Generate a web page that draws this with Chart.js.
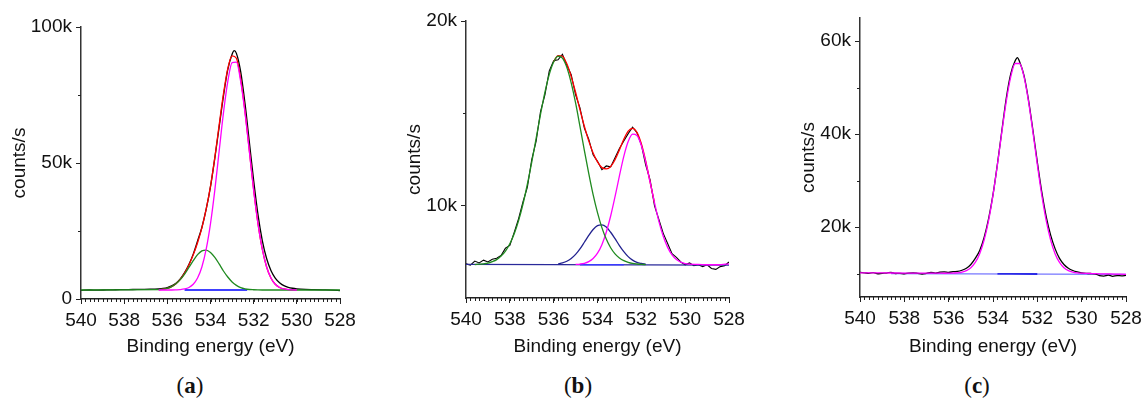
<!DOCTYPE html>
<html>
<head>
<meta charset="utf-8">
<script src="https://cdn.jsdelivr.net/npm/chart.js@4.4.1/dist/chart.umd.min.js"></script>
<style>
  html, body { margin: 0; padding: 0; background: #fff; }
  #wrap { position: relative; width: 1147px; height: 399px; overflow: hidden; }
  #wrap canvas { position: absolute; top: 0; }
  .cap { position: absolute; top: 373px; line-height: 26px; font-family: "Liberation Serif", "DejaVu Serif", serif; font-size: 23px; color: #111; transform: translateX(-50%); }
</style>
</head>
<body>
<div id="wrap">
  <canvas id="chartA" width="380" height="362" style="left:0px"></canvas>
  <canvas id="chartB" width="380" height="362" style="left:380px"></canvas>
  <canvas id="chartC" width="387" height="362" style="left:760px"></canvas>
  <div class="cap" style="left:190px">(<b>a</b>)</div>
  <div class="cap" style="left:578px">(<b>b</b>)</div>
  <div class="cap" style="left:977px">(<b>c</b>)</div>
</div>
<script>
// shared axis
const energyTicks = [540, 538, 536, 534, 532, 530, 528];

// ---- panel (a) ----
const aEnergy = [540, 539.6, 539.2, 538.8, 538.4, 538, 537.6, 537.2, 536.8, 536.4, 536.2, 536, 535.8, 535.6, 535.4, 535.2, 535, 534.8, 534.6, 534.4, 534.2, 534, 533.8, 533.6, 533.4, 533.2, 533, 532.9, 532.8, 532.6, 532.4, 532.2, 532, 531.8, 531.6, 531.4, 531.2, 531, 530.8, 530.6, 530.4, 530.2, 530, 529.6, 529.2, 528.8, 528.4, 528];
const aCounts = [3200, 3300, 3250, 3350, 3400, 3450, 3500, 3550, 3600, 3750, 3900, 4200, 4800, 5800, 7400, 9700, 12700, 16500, 21300, 26300, 33000, 41300, 51800, 63200, 74600, 84300, 90000, 91300, 90300, 83500, 71800, 57700, 43500, 31000, 21500, 14900, 10500, 7700, 6000, 4900, 4300, 3950, 3750, 3550, 3450, 3350, 3250, 3100];
const aFitEnergy = [540, 536.4, 536.2, 536, 535.8, 535.6, 535.4, 535.2, 535, 534.8, 534.6, 534.4, 534.2, 534, 533.8, 533.6, 533.4, 533.2, 533, 532.8, 532.6, 532.4, 532.2, 532, 531.8, 531.6, 531.4, 531.2, 531, 530.8, 530.6, 530.4, 530.2, 530, 528];
const aPeakMain = [null, 3300, 3300, 3300, 3300, 3350, 3440, 3680, 4230, 5420, 7700, 11760, 18300, 27700, 40000, 54300, 68400, 79900, 86900, 87100, 79900, 68400, 54300, 40000, 27700, 18300, 11760, 7700, 5420, 4230, 3680, 3440, 3350, 3300, null];
const aPeakHigh = [3300, 3430, 3600, 3950, 4570, 5600, 7100, 9150, 11600, 14100, 16300, 17700, 18000, 17100, 15300, 12900, 10300, 8080, 6280, 5020, 4210, 3750, 3500, 3400, 3330, 3300, 3300, 3300, 3300, 3300, 3300, 3300, 3300, 3300, 3300];
const aEnvelope = [null, 3430, 3600, 3950, 4570, 5650, 7240, 9530, 12530, 16220, 20700, 26160, 33000, 41500, 52000, 63900, 75400, 84700, 89400, 88500, 80800, 68850, 54500, 40100, 27730, 18300, 11760, 7700, 5420, 4230, 3680, 3440, 3350, 3300, null];
const aBgEnergy = [535.2, 532.3];
const aBackground = [3300, 3300];

// ---- panel (b) ----
const bEnergy = [540, 539.8, 539.6, 539.4, 539.2, 539, 538.8, 538.6, 538.4, 538.2, 538, 537.8, 537.6, 537.4, 537.2, 537, 536.8, 536.6, 536.4, 536.2, 536, 535.8, 535.6, 535.4, 535.2, 535, 534.8, 534.6, 534.4, 534.2, 534, 533.8, 533.6, 533.4, 533.2, 533, 532.8, 532.6, 532.4, 532.2, 532, 531.8, 531.6, 531.4, 531.2, 531, 530.8, 530.6, 530.4, 530.2, 530, 529.8, 529.6, 529.4, 529.2, 529, 528.8, 528.6, 528.4, 528.2, 528];
const bCounts = [6850, 6780, 7000, 6900, 7050, 6950, 7100, 7150, 7300, 7700, 7850, 8550, 9300, 10200, 11000, 12500, 13500, 15100, 16000, 17300, 17850, 17900, 18200, 17600, 17100, 16000, 15300, 14200, 13600, 12750, 12400, 11950, 12150, 12100, 12600, 13100, 13500, 13900, 14250, 13950, 13300, 12200, 11400, 10000, 9250, 8500, 7950, 7400, 7200, 6950, 6800, 6900, 6750, 6800, 6700, 6800, 6600, 6550, 6700, 6750, 6950];
const bFitEnergy = [539.6, 539.4, 539.2, 539, 538.8, 538.6, 538.4, 538.2, 538, 537.8, 537.6, 537.4, 537.2, 537, 536.8, 536.6, 536.4, 536.2, 536, 535.8, 535.6, 535.4, 535.2, 535, 534.8, 534.6, 534.4, 534.2, 534, 533.8, 533.6, 533.4, 533.2, 533, 532.8, 532.6, 532.4, 532.2, 532, 531.8, 531.6, 531.4, 531.2, 531, 530.8, 530.6, 530.4, 530.2, 530, 529.8, 529.4, 529, 528.5, 528];
const bPeakHigh = [6810, 6830, 6850, 6890, 6970, 7080, 7270, 7540, 7940, 8480, 9190, 10090, 11160, 12360, 13650, 14940, 16130, 17110, 17780, 18090, 17990, 17490, 16650, 15560, 14300, 13000, 11750, 10600, 9620, 8810, 8190, 7720, 7390, 7170, 7020, 6930, 6870, 6840, 6820, 6810, null, null, null, null, null, null, null, null, null, null, null, null, null, null];
const bPeakMid = [null, null, null, null, null, null, null, null, null, null, null, null, null, null, null, null, null, null, null, 6840, 6900, 6990, 7140, 7360, 7660, 8020, 8390, 8710, 8920, 8960, 8840, 8560, 8210, 7840, 7510, 7240, 7050, 6930, 6870, 6830, null, null, null, null, null, null, null, null, null, null, null, null, null, null];
const bPeakLow = [null, null, null, null, null, null, null, null, null, null, null, null, null, null, null, null, null, null, null, null, null, null, null, 6820, 6840, 6880, 6970, 7140, 7430, 7890, 8560, 9440, 10490, 11610, 12670, 13470, 13870, 13800, 13260, 12370, 11270, 10160, 9150, 8340, 7740, 7330, 7080, 6940, 6860, 6830, 6820, 6800, 6800, 6850];
const bEnvelope = [null, null, null, null, null, null, null, null, null, null, null, null, null, null, null, null, null, null, 17800, 18130, 18090, 17680, 16990, 16140, 15200, 14300, 13510, 12850, 12370, 12060, 11990, 12120, 12490, 13020, 13600, 14040, 14190, 13970, 13350, 12410, 11280, 10160, null, null, null, null, null, null, null, null, null, null, null, null];
const bBgEnergy = [540, 528];
const bBackground = [6820, 6780];
const bBgMidEnergy = [534.8, 532.8];
const bBackgroundMid = [6800, 6800];

// ---- panel (c) ----
const cEnergy = [540, 539.8, 539.6, 539.4, 539.2, 539, 538.8, 538.6, 538.4, 538.2, 538, 537.8, 537.6, 537.4, 537.2, 537, 536.8, 536.6, 536.4, 536.2, 536, 535.8, 535.6, 535.4, 535.2, 535, 534.8, 534.6, 534.4, 534.2, 534, 533.8, 533.6, 533.4, 533.2, 533, 532.9, 532.8, 532.6, 532.4, 532.2, 532, 531.8, 531.6, 531.4, 531.2, 531, 530.8, 530.6, 530.4, 530.2, 530, 529.8, 529.6, 529.4, 529.2, 529, 528.8, 528.6, 528.4, 528.2, 528];
const cCounts = [10300, 10200, 10100, 10250, 10000, 10100, 10150, 10300, 10050, 10100, 10000, 10150, 10200, 10100, 9950, 10100, 10300, 10150, 10350, 10400, 10300, 10450, 10500, 10750, 11200, 12000, 13300, 15000, 17800, 21800, 27000, 33600, 40800, 47800, 53000, 55800, 56500, 55600, 52600, 47400, 40900, 34000, 27600, 22300, 18300, 15400, 13300, 12000, 11200, 10700, 10400, 10200, 10100, 10050, 10000, 9600, 9500, 9700, 9450, 9600, 9550, 9650];
const cFitEnergy = [540, 539, 538, 537, 536.4, 536.2, 536, 535.8, 535.6, 535.4, 535.2, 535, 534.8, 534.6, 534.4, 534.2, 534, 533.8, 533.6, 533.4, 533.2, 533, 532.8, 532.6, 532.4, 532.2, 532, 531.8, 531.6, 531.4, 531.2, 531, 530.8, 530.6, 530.4, 530.2, 530, 529.8, 529.6, 529.4, 529, 528.5, 528];
const cPeakMain = [10200, 10180, 10150, 10130, 10120, 10110, 10120, 10150, 10200, 10360, 10680, 11300, 12430, 14320, 17250, 21440, 26930, 33470, 40510, 47140, 52350, 55220, 55220, 52350, 47140, 40510, 33470, 26930, 21440, 17250, 14320, 12430, 11300, 10680, 10360, 10190, 10120, 10080, 10050, 10020, 9980, 9930, 9880];
const cBgEnergy = [538.6, 528];
const cBackground = [10050, 9850];
const cBgMidEnergy = [533.8, 532];
const cBackgroundMid = [9980, 9950];

Chart.defaults.font.family = '"Liberation Sans", Arial, sans-serif';
Chart.defaults.font.size = 19;
Chart.defaults.color = '#111';

const minorX = [];
for (let k = 0; k <= 60; k++) minorX.push(528 + k * 0.2);

const minorTicks = {
  id: 'minorTicks',
  afterDraw(chart, args, opts) {
    const { ctx, scales: { x, y } } = chart;
    ctx.save();
    ctx.strokeStyle = '#222';
    ctx.lineWidth = 1;
    ctx.beginPath();
    for (const v of opts.x || []) {
      const px = Math.round(x.getPixelForValue(v)) + 0.5;
      ctx.moveTo(px, x.top);
      ctx.lineTo(px, x.top + 3);
    }
    for (const v of opts.y || []) {
      const py = Math.round(y.getPixelForValue(v)) + 0.5;
      ctx.moveTo(y.right - 3, py);
      ctx.lineTo(y.right, py);
    }
    ctx.stroke();
    ctx.restore();
  },
};

function pts(energy, counts) {
  const out = [];
  energy.forEach((e, i) => { if (counts[i] !== null) out.push({ x: e, y: counts[i] }); });
  return out;
}

function line(energy, counts, color, order, extra) {
  return Object.assign({
    data: pts(energy, counts),
    borderColor: color,
    borderWidth: 1.3,
    pointRadius: 0,
    fill: false,
    cubicInterpolationMode: 'monotone',
    order,
  }, extra || {});
}

const kLabel = (v) => (v === 0 ? '0' : v / 1000 + 'k');

function makePanel(id, cfg) {
  return new Chart(document.getElementById(id), {
    type: 'line',
    data: { datasets: cfg.datasets },
    options: {
      responsive: false,
      animation: false,
      devicePixelRatio: 1,
      layout: { padding: { top: cfg.top, right: cfg.right, left: 0, bottom: 0 } },
      plugins: {
        legend: { display: false },
        tooltip: { enabled: false },
        minorTicks: { x: minorX, y: cfg.minorY },
      },
      scales: {
        x: {
          type: 'linear',
          reverse: true,
          min: 528,
          max: 540,
          afterBuildTicks: (s) => { s.ticks = energyTicks.map((v) => ({ value: v })); },
          afterFit: (s) => { s.height = 362 - cfg.bottom; },
          ticks: { padding: 5, color: '#111', maxRotation: 0, autoSkip: false, callback: (v) => String(v) },
          grid: { drawOnChartArea: false, drawTicks: true, tickLength: 5, color: '#222' },
          border: { display: true, color: '#222', width: 1.5 },
          title: { display: true, text: 'Binding energy (eV)', color: '#111', padding: { top: 0, bottom: 4 } },
        },
        y: {
          type: 'linear',
          min: cfg.yMin,
          max: cfg.yMax,
          afterBuildTicks: (s) => { s.ticks = cfg.yTicks.map((v) => ({ value: v })); },
          afterFit: (s) => { s.width = cfg.left; },
          ticks: { padding: 4, color: '#111', callback: kLabel },
          grid: { drawOnChartArea: false, drawTicks: true, tickLength: 5, color: '#222' },
          border: { display: true, color: '#333', width: 1.5 },
          title: { display: true, text: 'counts/s', color: '#111', padding: { top: cfg.titlePad, bottom: 0 } },
        },
      },
    },
    plugins: [minorTicks],
  });
}

makePanel('chartA', {
  top: 27, bottom: 299, left: 81, right: 40, titlePad: 8,
  yMin: 0, yMax: 100000, yTicks: [0, 50000, 100000], minorY: [25000, 75000],
  datasets: [
    line(aFitEnergy, aPeakMain, '#ff00ff', 0),
    line(aFitEnergy, aPeakHigh, '#1f8a1f', 1),
    line(aFitEnergy, aEnvelope, '#ff0000', 2),
    line(aEnergy, aCounts, '#000000', 3),
    line(aBgEnergy, aBackground, '#0000ff', 4),
  ],
});

makePanel('chartB', {
  top: 21, bottom: 298, left: 86, right: 31, titlePad: 23,
  yMin: 5000, yMax: 20000, yTicks: [10000, 20000], minorY: [15000],
  datasets: [
    line(bFitEnergy, bPeakHigh, '#1f8a1f', 0),
    line(bFitEnergy, bPeakLow, '#ff00ff', 1),
    line(bFitEnergy, bPeakMid, '#22228f', 2),
    line(bFitEnergy, bEnvelope, '#ff0000', 3),
    line(bBgMidEnergy, bBackgroundMid, '#3a3aff', 4),
    line(bBgEnergy, bBackground, '#2a2a9a', 5),
    line(bEnergy, bCounts, '#000000', 6, { cubicInterpolationMode: 'default', tension: 0, borderWidth: 1.1 }),
  ],
});

makePanel('chartC', {
  top: 18, bottom: 297, left: 100, right: 21, titlePad: 37,
  yMin: 5000, yMax: 65000, yTicks: [20000, 40000, 60000], minorY: [10000, 30000, 50000],
  datasets: [
    line(cFitEnergy, cPeakMain, '#ff00ff', 0),
    line(cEnergy, cCounts, '#000000', 1),
    line(cBgMidEnergy, cBackgroundMid, '#0000dd', 2),
    line(cBgEnergy, cBackground, '#7777ff', 3),
  ],
});
</script>
</body>
</html>
